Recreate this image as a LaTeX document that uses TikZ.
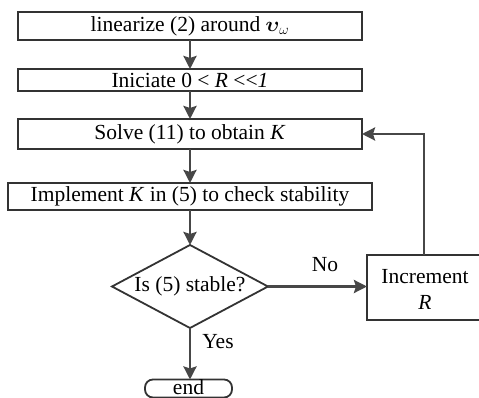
\documentclass[tikz,border=0pt]{standalone}
\usepackage{amsmath,amsbsy}
\usepackage{fontspec}
\setmainfont{Liberation Serif}
\usetikzlibrary{shapes.geometric,arrows.meta}
\begin{document}
\begin{tikzpicture}[x=1pt,y=-1pt,
  every node/.style={font=\fontsize{21.5}{24}\selectfont, inner sep=0pt, outer sep=0pt},
  box/.style={draw=black!80, line width=1.8pt, rectangle},
  dia/.style={draw=black!80, line width=1.8pt, diamond, aspect=1.88},
  term/.style={draw=black!80, line width=1.8pt, rounded corners=8pt},
  conn/.style={draw=black!72, line width=2.6pt, -{Stealth[length=13pt,width=13pt,inset=2pt]}},
  lbl/.style={font=\fontsize{21.5}{24}\selectfont}
]
\clip (0,0) rectangle (479,398);
\node[box, minimum width=344pt, minimum height=28pt] (b1) at (190,26) {linearize (2) around $\boldsymbol{\upsilon}_{\text{\fontsize{15}{16}\selectfont$\omega$}}$};
\node[box, minimum width=344pt, minimum height=22pt] (b2) at (190,80) {Iniciate 0 < \textit{R} <{}<\textit{1}};
\node[box, minimum width=344pt, minimum height=30pt] (b3) at (190,134) {Solve (11) to obtain \textit{K}};
\node[box, minimum width=364pt, minimum height=27pt] (b4) at (190,196.5) {Implement \textit{K} in (5) to check stability};
\node[dia, minimum width=156pt, minimum height=83pt] (d) at (190,286.5) {};
\node at (190,286.5) {Is (5) stable?};
\node[box, minimum width=116pt, minimum height=65pt] (inc) at (425,287.5) {};
\node[align=center, font=\fontsize{21.5}{26}\selectfont] at (425,289) {Increment\\\textit{R}};
\node[term, minimum width=87pt, minimum height=18pt] (e) at (188.5,388.5) {};
\node at (188.5,387.5) {end};
\coordinate (up) at (424,134);
\draw[conn] (b1) -- (b2);
\draw[conn] (b2) -- (b3);
\draw[conn] (b3) -- (b4);
\draw[conn] (b4.south) -- (d.north);
\draw[conn] (d.east) -- (inc.west|-d.east);
\draw[conn] (d.south) -- (d.south|-e.north);
\draw[conn] (inc.north-|up) -- (up) -- (b3.east);
\node[lbl] at (325,265) {No};
\node[lbl] at (218,342) {Yes};
\end{tikzpicture}
\end{document}
